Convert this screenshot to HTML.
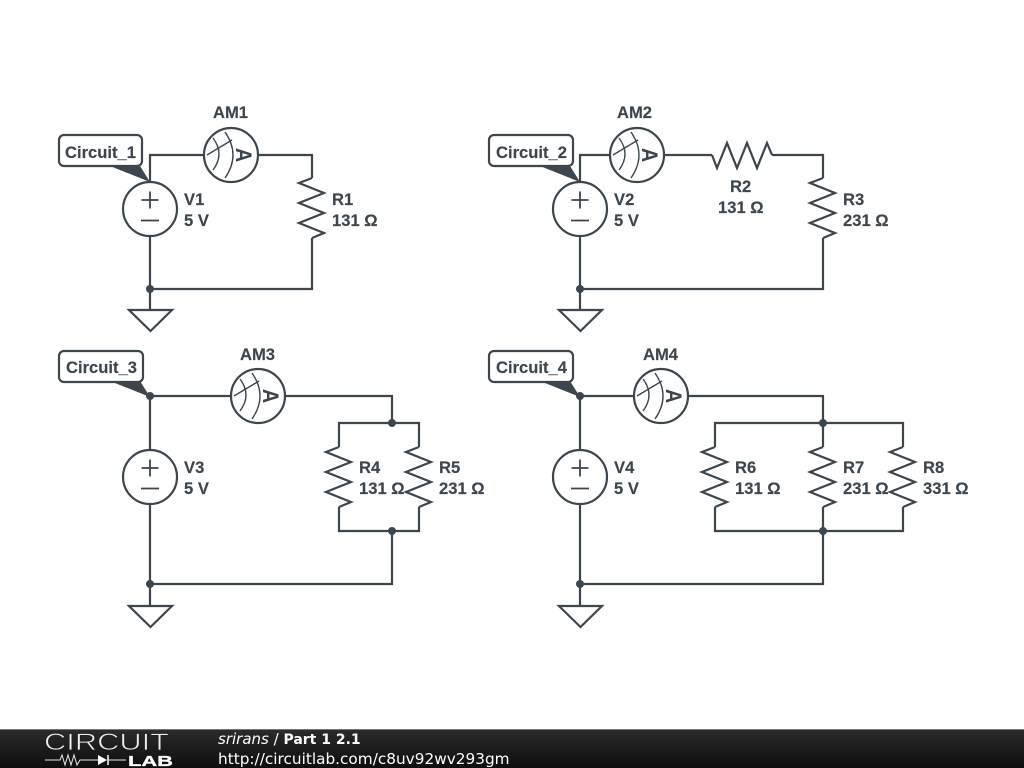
<!DOCTYPE html>
<html>
<head>
<meta charset="utf-8">
<style>
html,body{margin:0;padding:0;background:#fff;width:1024px;height:768px;overflow:hidden}
svg{display:block}
.w{fill:none;stroke:#3c464c;stroke-width:2.200;stroke-linejoin:miter}
.t{font-family:"Liberation Sans",sans-serif;font-weight:bold;font-size:16.600px;fill:#3c464c;stroke:#3c464c;stroke-width:.15}
.l{fill:#fff;stroke:#3c464c;stroke-width:2.200}
.d{fill:#3c464c}
.f{font-family:"DejaVu Sans",sans-serif;fill:#fff}
.a{font-family:"Liberation Sans",sans-serif;font-weight:bold;font-size:18px;fill:#3c464c}
</style>
</head>
<body>
<svg width="1024" height="768" viewBox="0 0 1024 768" xmlns="http://www.w3.org/2000/svg">
<defs>
<g id="rv"><path class="w" d="M0 -30L-13 -25L12 -15L-13 -5L12 5L-13 15L12 25L0 30"/></g>
<g id="rh"><path class="w" d="M-30 0L-25 13L-15 -12L-5 13L5 -12L15 13L25 -12L30 0"/></g>
<g id="v"><circle class="w" r="27"/><path class="w" d="M0 -17.500V-0.500M-8.500 -9H8.500M-9 11.500H9" style="stroke-width:1.800"/></g>
<g id="am"><circle class="w" r="27"/><path class="w" style="stroke-width:1.400" d="M-6 -23Q10 0 -6 23M-18 -17Q-6 -1 -18 15M-24 0L1 -15"/></g>
<g id="gnd"><path class="w" d="M-21.500 0H21.500L0 21Z"/></g>
<linearGradient id="fg" x1="0" y1="0" x2="0" y2="1"><stop offset="0" stop-color="#2c2c2c"/><stop offset=".5" stop-color="#1c1c1c"/><stop offset="1" stop-color="#0e0e0e"/></linearGradient>
</defs>

<!-- Circuit 1 -->
<path class="w" d="M150 182V155H204M258 155H312V178M312 238V289H150M150 236V310"/>
<use href="#rv" x="312" y="208"/>
<use href="#v" x="150" y="209"/>
<use href="#am" x="231" y="155"/>
<text class="a" transform="translate(236 155) rotate(90) scale(1.100 1.250)" text-anchor="middle">A</text>
<use href="#gnd" x="150.500" y="310"/>
<circle class="d" cx="150" cy="289" r="4"/>
<path class="d" d="M110 166H140L150 182Z"/>
<rect class="l" x="59" y="135" width="83" height="31" rx="5"/>
<text class="t" x="65" y="158">Circuit_1</text>
<text class="t" x="213" y="118">AM1</text>
<text class="t" x="184" y="205">V1</text><text class="t" x="184" y="226">5 V</text>
<text class="t" x="332" y="205">R1</text><text class="t" x="332" y="226">131 Ω</text>

<!-- Circuit 2 -->
<path class="w" d="M580 182V155H610M664 155H712M772 155H823V178M823 238V289H580M580 236V310"/>
<use href="#rh" x="742" y="155"/>
<use href="#rv" x="823" y="208"/>
<use href="#v" x="580" y="209"/>
<use href="#am" x="637" y="155"/>
<text class="a" transform="translate(642 155) rotate(90) scale(1.100 1.250)" text-anchor="middle">A</text>
<use href="#gnd" x="580.500" y="310"/>
<circle class="d" cx="580" cy="289" r="4"/>
<path class="d" d="M540 166H570L580 182Z"/>
<rect class="l" x="489" y="135" width="84" height="31" rx="5"/>
<text class="t" x="496" y="158">Circuit_2</text>
<text class="t" x="617" y="118">AM2</text>
<text class="t" x="614" y="205">V2</text><text class="t" x="614" y="226">5 V</text>
<text class="t" x="730" y="192">R2</text><text class="t" x="718" y="213">131 Ω</text>
<text class="t" x="843" y="205">R3</text><text class="t" x="843" y="226">231 Ω</text>

<!-- Circuit 3 -->
<path class="w" d="M150 450V396H231M285 396H392V423M339 447V423H419V447M339 507V531H419V507M392 531V584H150M150 504V606"/>
<use href="#rv" x="339" y="477"/>
<use href="#rv" x="419" y="477"/>
<use href="#v" x="150" y="477"/>
<use href="#am" x="258" y="396"/>
<text class="a" transform="translate(263 396) rotate(90) scale(1.100 1.250)" text-anchor="middle">A</text>
<use href="#gnd" x="150.500" y="606"/>
<circle class="d" cx="150" cy="396" r="4"/>
<circle class="d" cx="150" cy="584" r="4"/>
<circle class="d" cx="392" cy="423" r="4"/>
<circle class="d" cx="392" cy="531" r="4"/>
<path class="d" d="M110 381H140L150 397Z"/>
<rect class="l" x="59" y="351" width="84" height="31" rx="5"/>
<text class="t" x="66" y="373">Circuit_3</text>
<text class="t" x="240" y="360">AM3</text>
<text class="t" x="184" y="473">V3</text><text class="t" x="184" y="494">5 V</text>
<text class="t" x="359" y="473">R4</text><text class="t" x="359" y="494">131 Ω</text>
<text class="t" x="439" y="473">R5</text><text class="t" x="439" y="494">231 Ω</text>

<!-- Circuit 4 -->
<path class="w" d="M580 450V396H634M688 396H823V447M715 447V423H903V447M715 507V531H903V507M823 507V584H580M580 504V606"/>
<use href="#rv" x="715" y="477"/>
<use href="#rv" x="823" y="477"/>
<use href="#rv" x="903" y="477"/>
<use href="#v" x="580" y="477"/>
<use href="#am" x="661" y="396"/>
<text class="a" transform="translate(666 396) rotate(90) scale(1.100 1.250)" text-anchor="middle">A</text>
<use href="#gnd" x="580.500" y="606"/>
<circle class="d" cx="580" cy="396" r="4"/>
<circle class="d" cx="580" cy="584" r="4"/>
<circle class="d" cx="823" cy="423" r="4"/>
<circle class="d" cx="823" cy="531" r="4"/>
<path class="d" d="M540 381H570L580 397Z"/>
<rect class="l" x="489" y="351" width="84" height="31" rx="5"/>
<text class="t" x="496" y="373">Circuit_4</text>
<text class="t" x="643" y="360">AM4</text>
<text class="t" x="614" y="473">V4</text><text class="t" x="614" y="494">5 V</text>
<text class="t" x="735" y="473">R6</text><text class="t" x="735" y="494">131 Ω</text>
<text class="t" x="843" y="473">R7</text><text class="t" x="843" y="494">231 Ω</text>
<text class="t" x="923" y="473">R8</text><text class="t" x="923" y="494">331 Ω</text>

<!-- Footer -->
<rect x="0" y="729" width="1024" height="39" fill="url(#fg)"/>
<rect x="0" y="729" width="1024" height="1" fill="#777"/>
<text x="44" y="750" font-family="Liberation Sans,sans-serif" font-size="24" fill="#eee" stroke="#1e1e1e" stroke-width=".7" textLength="125" lengthAdjust="spacingAndGlyphs">CIRCUIT</text>
<path d="M45 760H60L62 755L65 765L68 755L71 765L74 755L77 765L80 760H98M108 760H126" fill="none" stroke="#e8e8e8" stroke-width="1"/>
<path d="M98 755V765L107 760Z" fill="#fff"/><path d="M108 755V765" stroke="#fff" stroke-width="1.500"/>
<text x="128" y="766" font-family="Liberation Sans,sans-serif" font-weight="bold" font-size="15" fill="#fff" stroke="#fff" stroke-width=".3" textLength="45" lengthAdjust="spacingAndGlyphs">LAB</text>
<text class="f" x="218" y="744" style="font-size:15px"><tspan font-style="italic">srirans</tspan> / <tspan font-weight="bold" style="font-size:14px">Part 1 2.1</tspan></text>
<text class="f" x="218" y="764" style="font-size:15.300px">http://circuitlab.com/c8uv92wv293gm</text>
</svg>
</body>
</html>
